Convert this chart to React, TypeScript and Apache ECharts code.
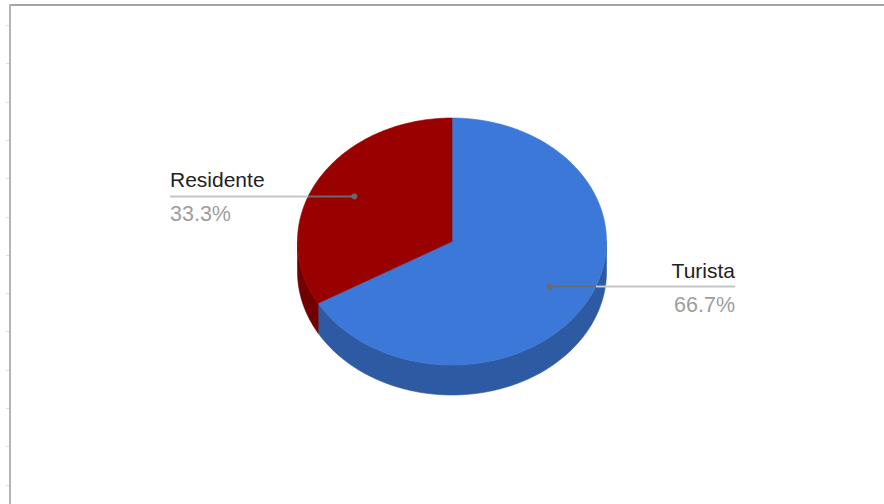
import React, { useEffect, useRef } from "react";
import * as echarts from "echarts";

const categories = ["Turista", "Residente"];
const values = [2, 1];
const topColors = ["#3c78d8", "#990000"];
const sideColors = ["#2d5aa3", "#720000"];

const total = values.reduce((a, b) => a + b, 0);

const CX = 452;
const CY = 241.5;
const RX = 154.5;
const RY = 123.5;
const DEPTH = 30;
const LEFT_LABEL_X = 170;
const RIGHT_LABEL_X = 735;
const ANCHOR_F = 0.73;

function pt(a: number, dy = 0): number[] {
  return [CX + RX * Math.sin(a), CY - RY * Math.cos(a) + dy];
}

function arcPoints(s: number, e: number, dy = 0): number[][] {
  const pts: number[][] = [];
  const n = Math.max(2, Math.ceil(((e - s) * 180) / Math.PI));
  for (let i = 0; i <= n; i++) {
    pts.push(pt(s + ((e - s) * i) / n, dy));
  }
  return pts;
}

function renderItem(params: any, api: any) {
  const idx = params.dataIndex;
  let before = 0;
  for (let i = 0; i < idx; i++) before += values[i];
  const v = api.value(0);
  const s = (before / total) * Math.PI * 2;
  const e = ((before + v) / total) * Math.PI * 2;
  const children: any[] = [];

  const fs = Math.max(s, Math.PI / 2);
  const fe = Math.min(e, (Math.PI * 3) / 2);
  if (fe > fs) {
    const topArc = arcPoints(fs, fe);
    const botArc = arcPoints(fs, fe, DEPTH).reverse();
    children.push({
      type: "polygon",
      z2: 1,
      shape: { points: topArc.concat(botArc) },
      style: { fill: sideColors[idx], stroke: sideColors[idx], lineWidth: 0.6 },
    });
  }

  children.push({
    type: "polygon",
    z2: 2,
    shape: { points: [[CX, CY]].concat(arcPoints(s, e)) },
    style: { fill: topColors[idx], stroke: topColors[idx], lineWidth: 0.6 },
  });

  const mid = (s + e) / 2;
  const ax = CX + RX * ANCHOR_F * Math.sin(mid);
  const ay = CY - RY * ANCHOR_F * Math.cos(mid);
  const left = Math.sin(mid) < 0;
  const tx = left ? LEFT_LABEL_X : RIGHT_LABEL_X;
  const k = (ay - CY) / RY;
  const half = RX * Math.sqrt(Math.max(0, 1 - k * k));
  const edgeX = left ? CX - half : CX + half;
  children.push({
    type: "line",
    z2: 10,
    shape: { x1: tx, y1: ay, x2: edgeX, y2: ay },
    style: { stroke: "#c6c6c6", lineWidth: 2 },
  });
  children.push({
    type: "line",
    z2: 10,
    shape: { x1: edgeX, y1: ay, x2: ax, y2: ay },
    style: { stroke: "#6a6a6a", lineWidth: 2 },
  });
  children.push({
    type: "circle",
    z2: 11,
    shape: { cx: ax, cy: ay, r: 3 },
    style: { fill: "#6a6a6a" },
  });
  const pct = ((v / total) * 100).toFixed(1) + "%";
  children.push({
    type: "text",
    z2: 12,
    x: tx,
    y: ay - 6,
    style: {
      text: categories[idx],
      fill: "#222222",
      font: "21px 'Liberation Sans', Arial, sans-serif",
      align: left ? "left" : "right",
      verticalAlign: "bottom",
    },
  });
  children.push({
    type: "text",
    z2: 12,
    x: tx,
    y: ay + 7,
    style: {
      text: pct,
      fill: "#9e9e9e",
      font: "21.5px 'Liberation Sans', Arial, sans-serif",
      align: left ? "left" : "right",
      verticalAlign: "top",
    },
  });

  return { type: "group", children };
}

export default function App() {
  const ref = useRef<HTMLDivElement>(null);
  useEffect(() => {
    if (!ref.current) return;
    const chart = echarts.init(ref.current, null, { renderer: "svg" });
    const ticks: any[] = [];
    for (let y = 25; y < 504; y += 38.3) {
      ticks.push({
        type: "line",
        shape: { x1: 6, y1: Math.round(y) + 0.5, x2: 9, y2: Math.round(y) + 0.5 },
        style: { stroke: "#dddddd", lineWidth: 1 },
      });
    }
    chart.setOption({
      animation: false,
      backgroundColor: "#ffffff",
      graphic: [
        {
          type: "line",
          shape: { x1: 9, y1: 5, x2: 884, y2: 5 },
          style: { stroke: "#a6a6a6", lineWidth: 2 },
        },
        {
          type: "line",
          shape: { x1: 10, y1: 4, x2: 10, y2: 504 },
          style: { stroke: "#b4b4b4", lineWidth: 2 },
        },
        ...ticks,
      ],
      series: [
        {
          type: "custom",
          coordinateSystem: "none",
          renderItem,
          data: values.map((v, i) => ({ name: categories[i], value: [v] })),
        },
      ],
    });
    return () => chart.dispose();
  }, []);
  return (
    <div
      ref={ref}
      style={{ position: "fixed", left: 0, top: 0, width: 884, height: 504 }}
    />
  );
}
